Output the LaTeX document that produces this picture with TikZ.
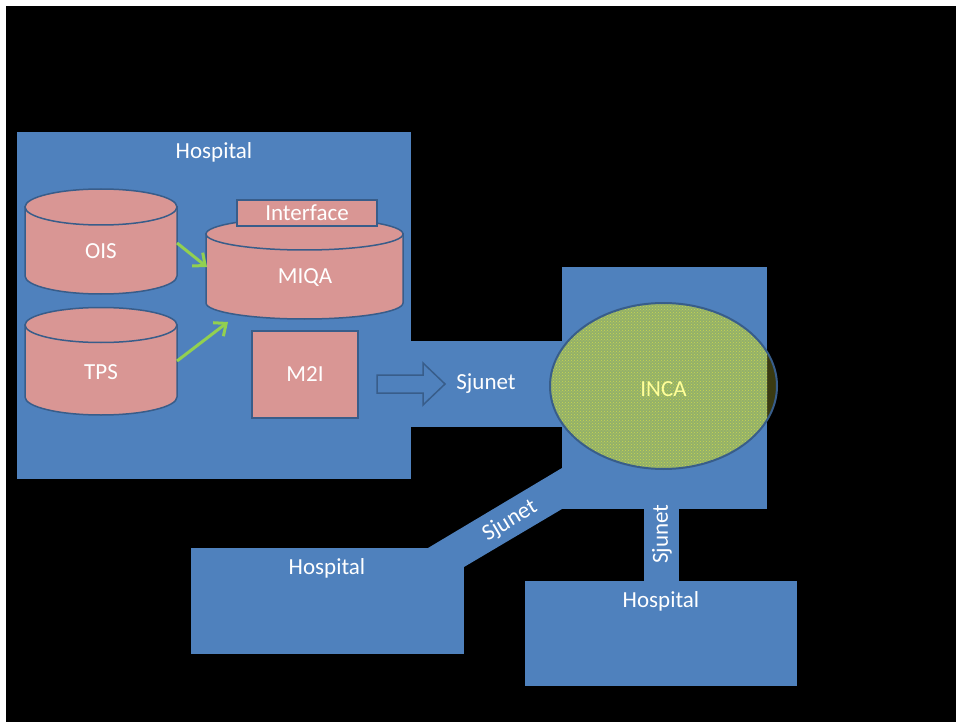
\documentclass[tikz,border=0pt]{standalone}
\usepackage{fontspec}
\setmainfont{Carlito}
\usetikzlibrary{arrows.meta,patterns}
\definecolor{bgblue}{HTML}{4F81BD}
\definecolor{edgeblue}{HTML}{385D8A}
\definecolor{dbpink}{HTML}{D99694}
\definecolor{arrgreen}{HTML}{92D050}
\definecolor{incafill}{HTML}{93B06A}
\definecolor{incadot}{HTML}{C9D84E}
\definecolor{incadark}{HTML}{3A3A12}
\definecolor{incatext}{HTML}{FFFF99}
\tikzset{
  hbox/.style={fill=bgblue, draw=none, inner sep=0pt},
  pinkbox/.style={fill=dbpink, draw=edgeblue, line width=1.5pt, inner sep=0pt},
  lbl/.style={text=white, font=\fontsize{23}{27}\selectfont, inner sep=0pt},
  cyl/.style={fill=dbpink, draw=edgeblue, line width=1.5pt},
  garrow/.style={draw=arrgreen, line width=3pt, -{Straight Barb[length=10pt,width=17pt,line width=3pt]}},
}
\begin{document}
\begin{tikzpicture}[x=1pt,y=-1pt]
\useasboundingbox (0,0) rectangle (956,722);
\fill[black] (6,6) rectangle (956,722);
% bands
\fill[bgblue] (411,341) rectangle (562,427);
\fill[bgblue] (644,505) rectangle (679,585);
\fill[bgblue] (428,548) -- (562,468) -- (562,509) -- (464,567) -- (464,548) -- cycle;
% hospitals
\node[hbox, minimum width=394pt, minimum height=347pt] (h1) at (214,305.5) {};
\node[hbox, minimum width=205pt, minimum height=242pt] (inca box) at (664.5,388) {};
\node[hbox, minimum width=273pt, minimum height=106pt] (h2) at (327.5,601) {};
\node[hbox, minimum width=272pt, minimum height=105pt] (h3) at (661,633.5) {};
\node[lbl] (t1) at (214,152) {Hospital};
\node[lbl] (t2) at (327,568) {Hospital};
\node[lbl] (t3) at (661,601) {Hospital};
% OIS
\path[cyl] (25,207) -- (25,276) arc (180:0:76 and 18) -- (177,207) -- cycle;
\draw[cyl] (101,207) ellipse (76 and 18);
\node[lbl] (ois) at (101,251) {OIS};
% TPS
\path[cyl] (25,325) -- (25,397) arc (180:0:76 and 18) -- (177,325) -- cycle;
\draw[cyl] (101,325) ellipse (76 and 17.5);
\node[lbl] (tps) at (101,372) {TPS};
% MIQA
\path[cyl] (206,234) -- (206,303) arc (180:0:98.5 and 16) -- (403,234) -- cycle;
\draw[cyl] (304.5,234) ellipse (98.5 and 16);
\node[lbl] (miqa) at (305,278) {MIQA};
\node[pinkbox, minimum width=140pt, minimum height=26pt] (iface) at (307,213) {};
\node[lbl] at (iface) {Interface};
% M2I
\node[pinkbox, minimum width=106pt, minimum height=87pt] (m2i) at (305,374.5) {};
\node[lbl] at (m2i) {M2I};
% green arrows
\coordinate (oisout) at (177,243);
\coordinate (miqain1) at (207,267);
\coordinate (tpsout) at (177,361);
\coordinate (miqain2) at (228,322);
\draw[garrow] (oisout) -- (miqain1);
\draw[garrow] (tpsout) -- (miqain2);
% block arrow
\draw[fill=bgblue, draw=edgeblue, line width=1.5pt] (377,375) -- (423,375) -- (423,363) -- (445,384) -- (423,405) -- (423,393) -- (377,393) -- cycle;
\node[lbl] (sj1) at (486,384) {Sjunet};
% INCA
\fill[incadark] (663.5,386) ellipse (113.5 and 83);
\begin{scope}
\clip (562,267) rectangle (767,509) (411,341) rectangle (562.5,427);
\fill[incafill] (663.5,386) ellipse (113.5 and 83);
\fill[pattern=crosshatch dots, pattern color=incadot] (663.5,386) ellipse (113.5 and 83);
\end{scope}
\draw[edgeblue, line width=2pt] (663.5,386) ellipse (113.5 and 83);
\node[lbl, text=incatext] (inca) at (663.5,389) {INCA};
\node[lbl, rotate=31] (sj2) at (510,521) {Sjunet};
\node[lbl, rotate=90] (sj3) at (662,534) {Sjunet};
\end{tikzpicture}
\end{document}
